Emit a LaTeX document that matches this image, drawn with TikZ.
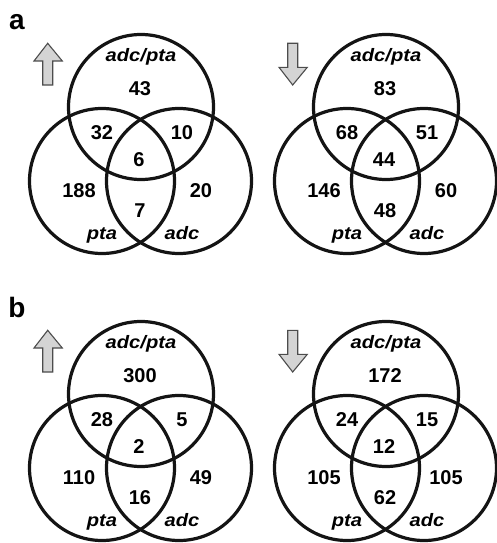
\documentclass[tikz,border=0pt]{standalone}
\usepackage{fontspec}
\setmainfont{Liberation Sans}
\begin{document}
\begin{tikzpicture}[x=1pt,y=-1pt,
  ring/.style={draw=black!92, line width=3.2pt},
  num/.style={font=\fontsize{20}{24}\selectfont\bfseries, inner sep=0pt, anchor=base},
  gene/.style={font=\fontsize{18}{22}\selectfont\bfseries\itshape, inner sep=0pt, anchor=base, xscale=1.12},
  panel/.style={font=\fontsize{28}{32}\selectfont\bfseries, inner sep=0pt, anchor=base},
  updown/.style={draw=black!70, fill=black!17, line width=1.1pt, line join=miter}
]
\useasboundingbox (0,0) rectangle (496,543);

% one three-set diagram: #1 = x offset, #2 = y offset, then the seven counts
\newcommand{\vennset}[9]{%
  \begin{scope}[shift={(#1,#2)}]
    \draw[ring] (141,107) circle (72.5);
    \draw[ring] (102,181) circle (72.5);
    \draw[ring] (179,181) circle (72.5);
    \node[gene] at (141,61) {adc/pta};
    \node[gene] at (102,239) {pta};
    \node[gene] at (182,239) {adc};
    \node[num] at (140,95) {#3};
    \node[num] at (102,139) {#4};
    \node[num] at (182,139) {#5};
    \node[num] at (139,166) {#6};
    \node[num] at (79,197) {#7};
    \node[num] at (201,197) {#8};
    \node[num] at (140,217) {#9};
  \end{scope}}

% arrows marking up- and down-regulated sets
\newcommand{\uparr}[2]{%
  \draw[updown,shift={(#1,#2)}] (47.7,43.3) -- (62.3,61) -- (52.7,61) -- (52.7,85)
     -- (42.7,85) -- (42.7,61) -- (34,61) -- cycle;}
\newcommand{\downarr}[2]{%
  \draw[updown,shift={(#1,#2)}] (47.7,85) -- (62.3,67.3) -- (52.7,67.3) -- (52.7,43.3)
     -- (42.7,43.3) -- (42.7,67.3) -- (34,67.3) -- cycle;}

\node[panel] at (17,30) {a};
\node[panel] at (17,317) {b};

\vennset{0}{0}{43}{32}{10}{6}{188}{20}{7}
\vennset{245}{0}{83}{68}{51}{44}{146}{60}{48}
\vennset{0}{287}{300}{28}{5}{2}{110}{49}{16}
\vennset{245}{287}{172}{24}{15}{12}{105}{105}{62}

\uparr{0}{0}
\downarr{245}{0}
\uparr{0}{287}
\downarr{245}{287}
\end{tikzpicture}
\end{document}
